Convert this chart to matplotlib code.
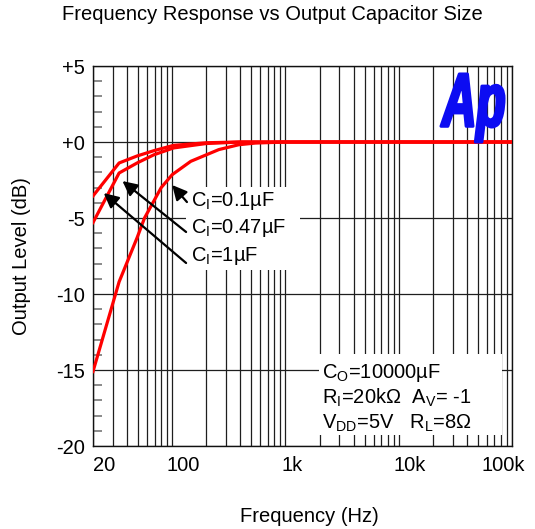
import matplotlib
matplotlib.use('Agg')
import matplotlib.pyplot as plt
from matplotlib.ticker import LogLocator, MultipleLocator, NullFormatter
from matplotlib.textpath import TextPath
from matplotlib.patches import PathPatch, Rectangle
from matplotlib.font_manager import FontProperties
from matplotlib.transforms import Affine2D, ScaledTranslation

plt.rcParams['font.family'] = ['Liberation Sans', 'DejaVu Sans']
plt.rcParams['mathtext.fontset'] = 'custom'
plt.rcParams['mathtext.rm'] = 'Liberation Sans'
plt.rcParams['mathtext.it'] = 'Liberation Sans:italic'
plt.rcParams['mathtext.bf'] = 'Liberation Sans:bold'

# ---------------- data ----------------
freq_1uF = [20, 34, 49, 69, 103, 200, 400, 100000]
db_1uF = [-3.55, -1.38, -0.92, -0.57, -0.22, -0.05, 0.0, 0.0]

freq_047uF = [20, 34, 49, 69, 103, 200, 400, 100000]
db_047uF = [-5.3, -2.04, -1.38, -0.84, -0.39, -0.10, 0.0, 0.0]

freq_01uF = [20, 34, 49, 57, 80, 100, 146, 258, 387, 542, 1000, 100000]
db_01uF = [-15.1, -9.2, -6.3, -5.0, -3.0, -2.15, -1.27, -0.5, -0.18, -0.07, 0.0, 0.0]

x_ticks = [20, 100, 1000, 10000, 100000]
x_tick_labels = ['20', '100', '1k', '10k', '100k']
y_ticks = [-20, -15, -10, -5, 0, 5]
y_tick_labels = ['-20', '-15', '-10', '-5', '+0', '+5']

curve_labels = ['C$_\\mathregular{I}$=0.1\u00b5F',
                'C$_\\mathregular{I}$=0.47\u00b5F',
                'C$_\\mathregular{I}$=1\u00b5F']
# arrow tips (freq, dB) on curves and tails near labels
arrow_tips = [(100, -2.83), (36.4, -2.57), (24.9, -3.36)]
arrow_tails = [(135, -3.95), (132.7, -5.92), (132.7, -7.96)]

cond_lines = ['C$_\\mathregular{O}$=10000\u00b5F',
              'R$_\\mathregular{I}$=20k\u03a9  A$_\\mathregular{V}$= -1',
              'V$_\\mathregular{DD}$=5V   R$_\\mathregular{L}$=8\u03a9']

FS = 14.5

# ---------------- figure ----------------
W, H = 535, 529
fig = plt.figure(figsize=(W / 100, H / 100), dpi=100)
L, R, T, B = 93, 512, 66, 446
ax = fig.add_axes([L / W, 1 - B / H, (R - L) / W, (B - T) / H])


def afrac(px, py):
    return ((px - L) / (R - L), (B - py) / (B - T))


ax.set_xscale('log')
ax.set_xlim(20, 100000)
ax.set_ylim(-20, 5)

gcol = '#1e1e1e'
ax.xaxis.set_minor_locator(LogLocator(base=10, subs=range(1, 10), numticks=50))
ax.xaxis.set_minor_formatter(NullFormatter())
ax.set_xticks(x_ticks, x_tick_labels)
ax.grid(True, which='both', axis='x', color=gcol, lw=0.9)
ax.set_yticks(y_ticks, y_tick_labels)
ax.yaxis.set_minor_locator(MultipleLocator(1))
ax.grid(True, which='major', axis='y', color=gcol, lw=0.9)
ax.set_axisbelow(True)

ax.tick_params(axis='x', which='both', length=0, pad=7, labelsize=FS)
ax.tick_params(axis='y', which='major', length=0, pad=6, labelsize=FS)
ax.tick_params(axis='y', which='minor', direction='in', length=6.5, width=1.2,
               color='#777777')
for sp in ax.spines.values():
    sp.set_color('#111111')
    sp.set_linewidth(1.0)

offsets = [8, 8, 5, 8, -6]
for lab, dx in zip(ax.get_xticklabels(), offsets):
    lab.set_transform(lab.get_transform() + ScaledTranslation(dx / 72, 0, fig.dpi_scale_trans))

# white boxes behind annotation texts
x0, y0 = afrac(186, 270)
x1, y1 = afrac(300, 187)
ax.add_patch(Rectangle((x0, y0), x1 - x0, y1 - y0, transform=ax.transAxes,
                       facecolor='white', edgecolor='none', zorder=1.5))
x0, y0 = afrac(319, 435)
x1, y1 = afrac(502, 354)
ax.add_patch(Rectangle((x0, y0), x1 - x0, y1 - y0, transform=ax.transAxes,
                       facecolor='white', edgecolor='none', zorder=1.5))

# curves
for f, d in [(freq_1uF, db_1uF), (freq_047uF, db_047uF), (freq_01uF, db_01uF)]:
    ax.plot(f, d, color='#ff0000', lw=2.3, zorder=3, solid_joinstyle='round')

# labels and arrows
label_pos = [(191, 201), (191, 228), (191, 256)]
for txt, (px, py) in zip(curve_labels, label_pos):
    fx, fy = afrac(px, py)
    ax.text(fx, fy, txt, transform=ax.transAxes, ha='left', va='center',
            fontsize=FS, zorder=4)
for tip, tail in zip(arrow_tips, arrow_tails):
    ax.annotate('', xy=tip, xytext=tail, xycoords='data', textcoords='data',
                arrowprops=dict(arrowstyle='-|>', color='black', lw=1.6,
                                mutation_scale=22, shrinkA=0, shrinkB=0),
                zorder=4)

cond_pos = [(322, 373), (322, 398), (322, 423)]
for txt, (px, py) in zip(cond_lines, cond_pos):
    fx, fy = afrac(px, py)
    ax.text(fx, fy, txt, transform=ax.transAxes, ha='left', va='center',
            fontsize=FS, zorder=4)

# Ap logo
tp = TextPath((0, 0), 'Ap', size=1,
              prop=FontProperties(family='Liberation Sans', weight='bold', style='italic'))
ext = tp.get_extents()
lx0, ly0 = afrac(441, 142)
lx1, ly1 = afrac(504, 74)
tr = Affine2D().translate(-ext.x0, -ext.y0).scale((lx1 - lx0) / ext.width,
                                                  (ly1 - ly0) / ext.height).translate(lx0, ly0)
ax.add_patch(PathPatch(tr.transform_path(tp), transform=ax.transAxes,
                       facecolor='#0c0cf2', edgecolor='#0c0cf2', lw=2.2,
                       joinstyle='round', zorder=5))

fig.text(272 / W, 1 - 15 / H, 'Frequency Response vs Output Capacitor Size',
         ha='center', va='center', fontsize=FS)
fig.text(309 / W, 1 - 517 / H, 'Frequency (Hz)', ha='center', va='center', fontsize=FS)
fig.text(22 / W, 1 - 256 / H, 'Output Level (dB)', ha='center', va='center',
         rotation=90, fontsize=FS)

fig.savefig('out.png', dpi=100)
